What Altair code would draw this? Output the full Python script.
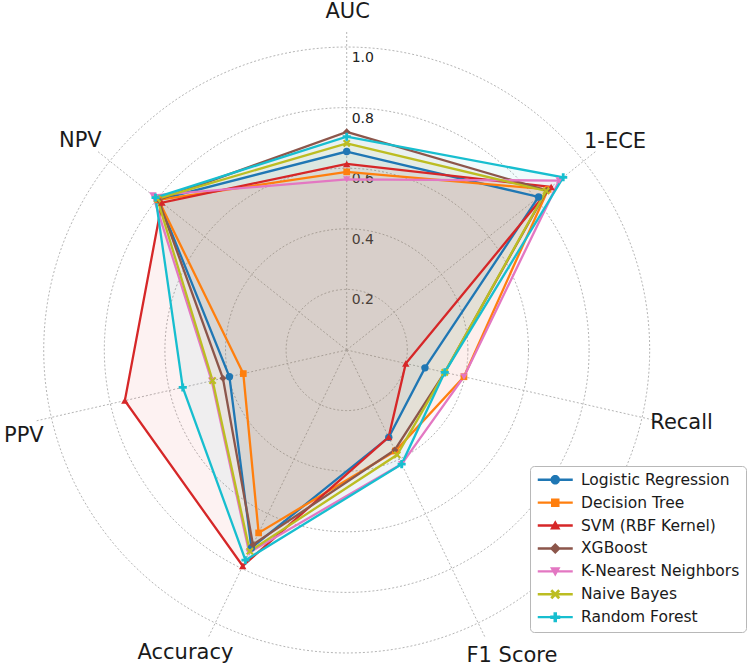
import altair as alt
import pandas as pd

# ---------------- data ----------------
metrics = ["AUC", "1-ECE", "Recall", "F1 Score", "Accuracy", "PPV", "NPV"]
models = ["Logistic Regression", "Decision Tree", "SVM (RBF Kernel)", "XGBoost",
          "K-Nearest Neighbors", "Naive Bayes", "Random Forest"]
logistic_regression = [0.655, 0.810, 0.265, 0.320, 0.725, 0.397, 0.795]
decision_tree = [0.588, 0.850, 0.397, 0.370, 0.670, 0.350, 0.795]
svm_rbf = [0.614, 0.863, 0.200, 0.319, 0.791, 0.751, 0.780]
xgboost = [0.720, 0.845, 0.332, 0.366, 0.713, 0.419, 0.795]
knn = [0.563, 0.897, 0.397, 0.418, 0.742, 0.457, 0.818]
naive_bayes = [0.682, 0.842, 0.332, 0.384, 0.737, 0.454, 0.800]
random_forest = [0.704, 0.914, 0.332, 0.418, 0.770, 0.555, 0.807]
series = [logistic_regression, decision_tree, svm_rbf, xgboost, knn, naive_bayes, random_forest]
ring_values = [0.2, 0.4, 0.6, 0.8, 1.0]
ring_labels = ["0.2", "0.4", "0.6", "0.8", "1.0"]

# ---------------- styles ----------------
colors = ["#1f77b4", "#ff7f0e", "#d62728", "#8c564b", "#e377c2", "#bcbd22", "#17becf"]
X_PATH = "M-1,-0.6L-0.6,-1L0,-0.4L0.6,-1L1,-0.6L0.4,0L1,0.6L0.6,1L0,0.4L-0.6,1L-1,0.6L-0.4,0Z"
PLUS_PATH = ("M-0.35,-1L0.35,-1L0.35,-0.35L1,-0.35L1,0.35L0.35,0.35L0.35,1L-0.35,1"
             "L-0.35,0.35L-1,0.35L-1,-0.35L-0.35,-0.35Z")
point_shapes = ["circle", "square", "triangle-up", "diamond", "triangle-down", X_PATH, PLUS_PATH]
point_sizes = [55, 45, 55, 50, 55, 60, 65]

BAR = "M-3.5,-0.24L3.5,-0.24L3.5,0.24L-3.5,0.24Z"
legend_marks = [
    "M-0.95,0A0.95,0.95,0,1,1,0.95,0A0.95,0.95,0,1,1,-0.95,0Z",
    "M-0.85,-0.85L0.85,-0.85L0.85,0.85L-0.85,0.85Z",
    "M0,-1.05L1.05,0.8L-1.05,0.8Z",
    "M0,-1.1L1.1,0L0,1.1L-1.1,0Z",
    "M0,1.05L-1.05,-0.8L1.05,-0.8Z",
    X_PATH,
    PLUS_PATH,
]
legend_paths = [BAR + p for p in legend_marks]

# per-label pixel nudges for the category labels (layout only)
label_dx = [1, 3, 4, 18, -14, 8, -1]
label_dy = [1.5, 4, -3, 0, -3, 10, 3]

FONT = "DejaVu Sans"
GRID = "#b5b5b5"
n = len(metrics)

rows = []
for m, vals in zip(models, series):
    for i, (metric, v) in enumerate(zip(metrics, vals)):
        rows.append({"model": m, "metric": metric, "idx": i, "value": v})
df = pd.DataFrame(rows)

ANG = f"PI/2 - datum.idx*2*PI/{n}"

xs = alt.Scale(domain=[-1.1442, 1.3376], nice=False, zero=False)
ys = alt.Scale(domain=[-1.0462, 1.1551], nice=False, zero=False)
X = alt.X("x:Q", scale=xs, axis=None)
Y = alt.Y("y:Q", scale=ys, axis=None)

# ---------------- grid ----------------
rings = (
    alt.Chart(pd.DataFrame({"r": ring_values}))
    .transform_calculate(deg="sequence(0, 361, 2)")
    .transform_flatten(["deg"])
    .transform_calculate(x="datum.r*cos(datum.deg*PI/180)", y="datum.r*sin(datum.deg*PI/180)")
    .mark_line(stroke=GRID, strokeDash=[2, 2], strokeWidth=1)
    .encode(x=X, y=Y, detail="r:N", order="deg:Q")
)

metric_df = pd.DataFrame({"metric": metrics, "idx": list(range(n))})

spokes = (
    alt.Chart(metric_df)
    .transform_calculate(ang=ANG)
    .transform_calculate(x="0", y="0", xe="1.05*cos(datum.ang)", ye="1.05*sin(datum.ang)")
    .mark_rule(stroke=GRID, strokeDash=[2, 2], strokeWidth=1)
    .encode(x=X, y=Y, x2="xe:Q", y2="ye:Q")
)

rlabels = (
    alt.Chart(pd.DataFrame({"r": ring_values, "label": ring_labels}))
    .transform_calculate(x="0", y="datum.r")
    .mark_text(align="left", baseline="middle", dx=5, dy=11, fontSize=14, font=FONT, color="#222222")
    .encode(x=X, y=Y, text="label:N")
)

# ---------------- data marks ----------------
base = alt.Chart(df).transform_calculate(ang=ANG).transform_calculate(
    x="datum.value*cos(datum.ang)", y="datum.value*sin(datum.ang)"
)

fills, lines, points = [], [], []
for m, c, shp, sz in zip(models, colors, point_shapes, point_sizes):
    sub = base.transform_filter(alt.datum.model == m)
    fills.append(
        sub.mark_line(filled=True, interpolate="linear-closed", fill=c, fillOpacity=0.06,
                      strokeWidth=0).encode(x=X, y=Y, order="idx:Q")
    )
    lines.append(
        sub.mark_line(interpolate="linear-closed", color=c, strokeWidth=2.3).encode(x=X, y=Y, order="idx:Q")
    )
    points.append(
        sub.mark_point(filled=True, opacity=1, size=sz, shape=shp, color=c).encode(x=X, y=Y)
    )

leg = alt.Legend(
    title=None, orient="none", legendX=530, legendY=466, padding=6,
    fillColor="white", strokeColor="#b8b8b8", cornerRadius=4,
    symbolSize=100, symbolOpacity=1, symbolStrokeWidth=0, symbolOffset=11.5,
    labelOffset=18, labelFont=FONT, labelFontSize=15.5, labelColor="#1a1a1a",
    labelLimit=400, rowPadding=5.9,
)
legend_layer = base.mark_point(filled=True, opacity=0, size=100).encode(
    x=X, y=Y,
    color=alt.Color("model:N", scale=alt.Scale(domain=models, range=colors), legend=leg),
    shape=alt.Shape("model:N", scale=alt.Scale(domain=models, range=legend_paths), legend=leg),
)

axis_labels = []
for i, (ddx, ddy) in enumerate(zip(label_dx, label_dy)):
    axis_labels.append(
        alt.Chart(metric_df)
        .transform_filter(alt.datum.idx == i)
        .transform_calculate(ang=ANG)
        .transform_calculate(x="1.12*cos(datum.ang)", y="1.12*sin(datum.ang)")
        .mark_text(fontSize=21, font=FONT, color="#1a1a1a", align="center", baseline="middle",
                   dx=ddx, dy=ddy)
        .encode(x=X, y=Y, text="metric:N")
    )

chart = (
    alt.layer(rings, spokes, rlabels, *fills, *lines, *points, legend_layer, *axis_labels)
    .properties(width=752, height=667, autosize=alt.AutoSizeParams(type="none"), padding=0)
    .configure_view(stroke=None)
)

chart.save("out.html", embed_options={"renderer": "svg", "actions": False})
